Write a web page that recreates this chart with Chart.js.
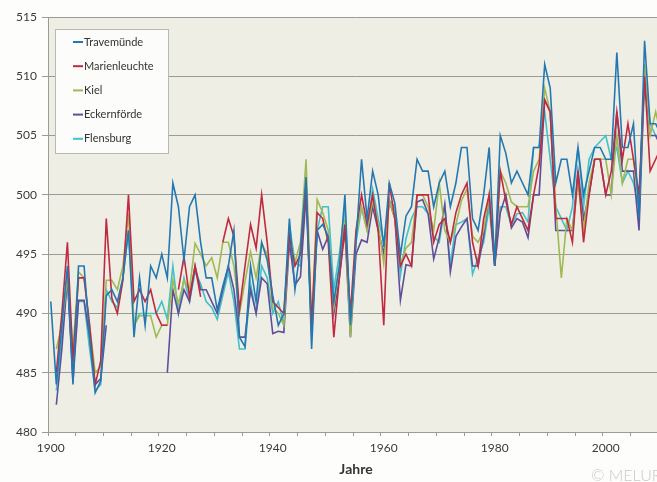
<!DOCTYPE html>
<html>
<head>
<meta charset="utf-8">
<script src="https://cdn.jsdelivr.net/npm/chart.js@4"></script>
<style>
  html, body { margin: 0; padding: 0; background: #fdfdfb; overflow: hidden; }
  #wrap { position: relative; width: 680px; height: 482px; }
</style>
</head>
<body>
<div id="wrap"><canvas id="myChart" width="680" height="482"></canvas></div>
<script>
// years on the category axis
var years = [];
for (var y = 1900; y <= 2010; y++) years.push(y);

var yTicks = [480, 485, 490, 495, 500, 505, 510, 515];

// values, one per year 1900..2010
var travemuende = [
  491, 484, 489, 494, 484, 494, 494, 488, 483.3, 484.3,
  491.5, 492, 491, 493, 497, 488, 493, 489, 494, 493,
  495, 493, 501, 499, 494.5, 499, 500, 496, 493, 493,
  490.3, 492.3, 494, 497, 488, 487.2, 494, 491, 496, 494.5,
  491.5, 489, 490, 498, 492, 495.5, 501.5, 487, 497, 497.5,
  496.5, 491, 494, 500, 489, 496, 503, 498, 502, 500,
  495.6, 501, 499.3, 494.9, 498.2, 499, 503, 502, 502, 499,
  501, 502, 499, 501, 504, 504, 498, 497, 500, 504,
  494, 505, 503.5, 501, 502, 501, 500, 504, 504, 511,
  509, 501, 503, 503, 500, 504, 500, 502, 504, 504,
  503, 503, 512, 504, 504, 506, 498, 513, 506, 506,
  505
];
var marienleuchte = [
  null, 485, 490, 496, 486, 493, 493, 489, 484, 486,
  498, 491.3, 490, 492.8, 500, 491, 492, 491, 492, 490,
  489, 489, null, 492, 494.8, 491.4, 494, 491.4, null, null,
  null, 496, 498, 496.5, 490.3, 494, 497.5, 495.5, 500, 496,
  491, 490.5, 490, 496.5, 494, 495, 501, 489, 498.5, 498,
  496, 488, 493, 497.5, 490, 497, 500, 497.5, 500, 497,
  489, 501, 498, 494, 495, 494, 500, 500, 500, 496,
  497.5, 498, 496, 498.5, 500, 501, 496, 494, 498, 500,
  494, 502, 499.5, 497.5, 499, 498, 497, 500, 502.5, 508,
  507, 498, 498, 498, 496, 502, 496, 500, 503, 503,
  500, 502, 507, 503, 506, 503, 500, 510, 502, 503,
  504
];
var kiel = [
  null, 487, 489, 493, 487, 493.5, 493, 489, 485, 485.5,
  492.8, 492.8, 492, 494, 498.4, 489, 489.8, 489.8, 489.8, 488,
  489, 489, 492.8, 490.8, 492.8, 492, 495.9, 495, 494, 494.7,
  493, 496, 496, 494, 490, 492.7, 495.2, 493, 495.9, 495,
  490.5, 490, 489, 496.8, 494.3, 496, 503, 489, 499.6, 498.5,
  497, 490.5, 494, 498, 488, 496.5, 499, 497, 499.5, 497.5,
  494.2, 499.5, 498, 494.2, 495.5, 496, 500, 500, 499, 497,
  501, 497, 496, 497.5, 499.5, 500.5, 496.5, 496, 497, 500,
  495, 502, 501, 499.4, 499, 499, 499, 502, 503, 509,
  507, 499, 493, 498, 497, 501, 497, 501, 503, 503,
  503, 500, 505, 501, 503, 503, 499, 511, 505, 507,
  505
];
var eckernfoerde = [
  null, 482.3, 487, 493, 484.2, 491.1, 491.1, 488, 484, 484.5,
  489, null, null, null, null, null, null, null, null, null,
  null, 485, 492, 490, 492, 491, 494, 492, 492, 491,
  490, 492, 494, 492, 488, 488, 492, 490, 493, 492.5,
  488.3, 488.5, 488.4, 496, 492.4, 493.1, 500, 488.5, 497, 495.4,
  496.5, 490, 493, 497, 488, 495, 496.2, 496, 499, 497,
  495, 499.5, 498, 491.1, 494.1, 494, 499.4, 499.6, 498.4, 494.6,
  496.4, 499.2, 493.5, 496.5, 497.3, 498, 494, 494, 496.5, 500,
  494, 498.5, 500, 497.2, 498, 497.7, 496.4, 500, 500, 508,
  507, 497, 497, 497, 497, 502, 498, 500, 503, 503,
  500, 500, 507, 502, 502, 502, 497, 510, 505, 505,
  504
];
var flensburg = [
  null, 483.5, 488, 493, 485, 491, 491, 487, 483.5, 484,
  492, 491, 490.5, 493, 497, 489, 490, 490, 490, 490,
  491, 489.5, 494, 490, 493, 491, 493.5, 492.5, 491, 490.5,
  489.5, 491.5, 493.5, 491, 487, 487, 492.5, 490, 494, 493,
  490, 491, 489, 497.5, 494.3, 494, 501, 488, 497, 499,
  499, 492, 495, 499, 489, 496, 498.9, 497, 500.5, 498,
  496, 499.5, 499, 493.2, 496.3, 498, 499, 499, 498.4, 496.5,
  496, 499, 494.1, 497.5, 497.7, 498, 493.3, 494.7, 496, 499,
  494, 499, 499, 497.4, 498.4, 498.5, 497.7, 504, 504, 507,
  503, 499, 498, 497, 499, 504, 499, 503, 504, 504.5,
  505, 503, 504, 501, 502, 501, 499, 510, 506, 505,
  505
];

var seriesNames = ["Travemünde", "Marienleuchte", "Kiel", "Eckernförde", "Flensburg"];
var seriesColors = ["#2478b2", "#c0293f", "#9fba55", "#5e4f9a", "#41c1ca"];
var seriesData = [travemuende, marienleuchte, kiel, eckernfoerde, flensburg];

var FONT = "Lato, 'Open Sans', sans-serif";

// beige plot area
var plotBg = {
  id: 'plotBg',
  beforeDraw: function(chart) {
    var a = chart.chartArea, c = chart.ctx;
    c.save();
    c.fillStyle = '#efeee5';
    c.fillRect(a.left, a.top, a.right - a.left, a.bottom - a.top);
    c.restore();
  }
};

// legend box in the top left corner, axis title and credit
var extras = {
  id: 'extras',
  afterDraw: function(chart) {
    var c = chart.ctx;
    c.save();
    c.fillStyle = '#fcfcfa';
    c.fillRect(55, 29, 113, 124);
    c.strokeStyle = '#b8b8b4';
    c.lineWidth = 1;
    c.strokeRect(55.5, 29.5, 113, 124);
    c.font = '11px ' + FONT;
    c.textBaseline = 'middle';
    chart.data.datasets.forEach(function(ds, i) {
      var yy = 42 + i * 24.2;
      c.strokeStyle = ds.borderColor;
      c.lineWidth = 2;
      c.beginPath();
      c.moveTo(73, yy);
      c.lineTo(83, yy);
      c.stroke();
      c.fillStyle = '#333333';
      c.fillText(ds.label, 84, yy);
    });
    c.font = 'bold 14px ' + FONT;
    c.textAlign = 'center';
    c.fillStyle = '#333333';
    c.fillText('Jahre', (chart.chartArea.left + chart.chartArea.right) / 2, 469);
    c.font = '300 16px ' + FONT;
    c.textAlign = 'left';
    c.fillStyle = '#c9c9c9';
    c.fillText('© MELUR', 591, 476);
    c.restore();
  }
};

var ctx = document.getElementById('myChart').getContext('2d');
var chart = new Chart(ctx, {
  type: 'line',
  data: {
    labels: years,
    datasets: seriesNames.map(function(name, i) {
      return {
        label: name,
        data: seriesData[i],
        borderColor: seriesColors[i],
        backgroundColor: seriesColors[i],
        borderWidth: 1.6,
        pointRadius: 0,
        tension: 0,
        spanGaps: false
      };
    })
  },
  options: {
    responsive: false,
    animation: false,
    devicePixelRatio: 1,
    layout: { padding: { top: 17, right: 16, left: 0, bottom: 0 } },
    plugins: { legend: { display: false }, tooltip: { enabled: false } },
    scales: {
      x: {
        type: 'category',
        offset: true,
        grid: {
          offset: true,
          drawOnChartArea: false,
          tickLength: 4,
          color: function(c) { return c.index % 5 === 0 ? '#9a9a96' : 'rgba(0,0,0,0)'; }
        },
        border: { color: '#9a9a96' },
        ticks: {
          autoSkip: false,
          maxRotation: 0,
          padding: 5,
          color: '#3a3a3a',
          font: { family: FONT, size: 12 },
          callback: function(v, i) { return years[i] % 20 === 0 ? String(years[i]) : ''; }
        },
        afterFit: function(s) { s.height = 50; }
      },
      y: {
        min: yTicks[0],
        max: yTicks[yTicks.length - 1],
        afterBuildTicks: function(s) { s.ticks = yTicks.map(function(v) { return { value: v }; }); },
        grid: { color: '#9a9a96', tickLength: 6 },
        border: { color: '#9a9a96' },
        ticks: {
          padding: 5,
          color: '#3a3a3a',
          font: { family: FONT, size: 12 }
        },
        afterFit: function(s) { s.width = 48; }
      }
    }
  },
  plugins: [plotBg, extras]
});
</script>
</body>
</html>
